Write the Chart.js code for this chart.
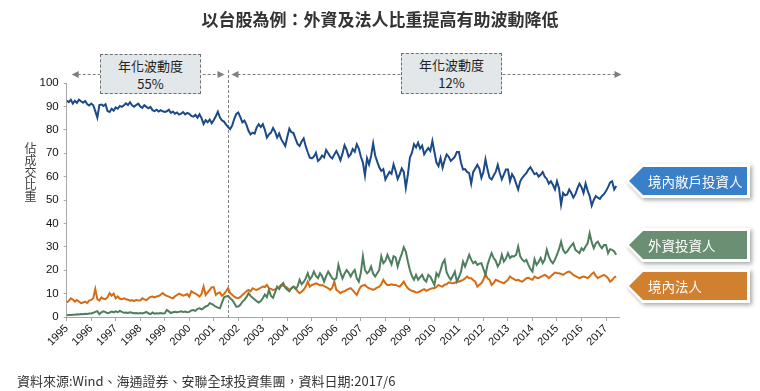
<!DOCTYPE html>
<html>
<head>
<meta charset="utf-8">
<script src="https://cdn.jsdelivr.net/npm/chart.js@4.4.1/dist/chart.umd.min.js"></script>
<style>
  body { margin: 0; background: #fff; }
  #wrap { position: relative; width: 760px; height: 391px; overflow: hidden; font-family: "Noto Sans CJK TC", "Noto Sans", sans-serif; }
  #chart { position: absolute; left: 0; top: 0; }
  .title { position: absolute; left: 0; width: 760px; top: 6px; text-align: center; font-size: 17px; font-weight: bold; color: #333; }
  .ytitle { position: absolute; left: 24px; top: 142px; writing-mode: vertical-rl; text-orientation: upright; font-size: 12px; line-height: 12px; color: #404040; }
  .note { position: absolute; background: #e2e7ea; border: 1px dashed #6f6f6f; box-sizing: border-box; text-align: center; font-size: 13px; line-height: 18px; color: #222; padding-top: 2px; }
  .tag { position: absolute; left: 626px; width: 124px; height: 34px; filter: drop-shadow(2px 2px 2px rgba(0,0,0,0.35)); }
  .tag .outer { position: absolute; inset: 0; background: #fff; clip-path: polygon(0 50%, 16px 0, 100% 0, 100% 100%, 16px 100%); }
  .tag .inner { position: absolute; left: 3px; top: 3px; right: 3px; bottom: 3px; clip-path: polygon(0 50%, 14px 0, 100% 0, 100% 100%, 14px 100%); color: #fff; font-size: 13.5px; line-height: 28px; padding-left: 19px; box-sizing: border-box; white-space: nowrap; }
  .footer { position: absolute; left: 17px; top: 371px; font-size: 13px; color: #333; white-space: nowrap; }
</style>
</head>
<body>
<div id="wrap">
  <canvas id="chart" width="760" height="391"></canvas>
  <div class="title">以台股為例：外資及法人比重提高有助波動降低</div>
  <div class="ytitle">佔成交比重</div>
  <div class="note" style="left:100px; top:54px; width:101px; height:40px;">年化波動度<br>55%</div>
  <div class="note" style="left:401px; top:53px; width:101px; height:41px;">年化波動度<br>12%</div>
  <div class="tag" style="top:164px;"><div class="outer"></div><div class="inner" style="background:#3a80c8;">境內散戶投資人</div></div>
  <div class="tag" style="top:228px;"><div class="outer"></div><div class="inner" style="background:#6a8f72;">外資投資人</div></div>
  <div class="tag" style="top:269px;"><div class="outer"></div><div class="inner" style="background:#d0802e;">境內法人</div></div>
  <div class="footer">資料來源:Wind、海通證券、安聯全球投資集團，資料日期:2017/6</div>
</div>
<script>
// monthly data, Jan 1995 - Jun 2017 (% of turnover)
const startYear = 1995;
const endYear = 2017.55;
const splitYear = 2001.58;

const xTicks = [1995, 1996, 1997, 1998, 1999, 2000, 2001, 2002, 2003, 2004, 2005,
  2006, 2007, 2008, 2009, 2010, 2011, 2012, 2013, 2014, 2015, 2016, 2017];
const yTicks = [0, 10, 20, 30, 40, 50, 60, 70, 80, 90, 100];

const retail = [
  92.5, 91.8, 92.8, 91.2, 92.4, 91.5, 92.9, 92.2, 91.6, 92.3, 91.0, 90.4, // 1995
  91.2, 90.5, 88.0, 85.2, 90.6, 90.8, 90.2, 90.9, 88.0, 87.6, 89.0, 88.2, // 1996
  89.6, 89.0, 90.2, 89.8, 90.5, 91.3, 90.6, 91.8, 90.5, 89.9, 90.6, 91.2, // 1997
  90.0, 89.4, 90.5, 89.8, 89.2, 89.8, 88.4, 88.0, 88.6, 87.8, 88.4, 87.9, // 1998
  87.6, 87.9, 88.6, 87.2, 87.8, 86.9, 87.4, 86.5, 86.9, 87.6, 86.6, 87.2, // 1999
  86.8, 85.9, 85.6, 86.4, 85.2, 86.6, 85.0, 82.5, 84.1, 83.2, 84.4, 82.8, // 2000
  84.2, 85.8, 87.7, 85.2, 84.0, 83.5, 82.2, 81.2, 80.3, 81.8, 84.6, 86.8, // 2001
  87.4, 85.4, 83.2, 83.9, 82.1, 79.6, 78.0, 78.8, 78.4, 81.0, 82.4, 81.2, // 2002
  82.4, 80.0, 76.7, 78.0, 78.8, 80.8, 79.2, 76.7, 78.4, 76.0, 74.6, 73.1, // 2003
  77.0, 80.5, 79.0, 78.6, 76.2, 74.0, 73.1, 75.0, 76.3, 73.0, 70.4, 68.1, // 2004
  67.8, 68.5, 70.2, 66.7, 67.5, 69.0, 68.2, 71.4, 70.0, 68.5, 67.8, 69.5, // 2005
  70.9, 69.2, 67.0, 69.8, 73.4, 71.5, 68.5, 69.5, 71.8, 70.6, 73.8, 72.0, // 2006
  68.5, 66.0, 60.5, 67.8, 65.2, 68.8, 74.2, 69.0, 66.4, 64.0, 62.4, 63.2, // 2007
  58.8, 60.5, 62.0, 61.2, 65.2, 62.4, 59.0, 61.0, 63.5, 62.0, 55.2, 60.8, // 2008
  68.1, 70.2, 73.8, 72.5, 74.5, 72.0, 73.2, 69.5, 71.0, 72.2, 71.0, 75.2, // 2009
  70.5, 66.0, 64.5, 68.0, 63.8, 67.0, 69.5, 68.5, 66.7, 67.5, 68.5, 70.5, // 2010
  70.5, 66.0, 63.0, 63.2, 62.0, 61.5, 57.0, 62.0, 63.5, 65.0, 63.4, 59.5, // 2011
  62.0, 67.4, 63.0, 59.5, 58.8, 60.5, 62.0, 65.0, 61.5, 58.8, 61.0, 63.0, // 2012
  63.0, 58.0, 61.0, 59.5, 57.0, 54.5, 58.0, 59.5, 60.5, 61.5, 63.0, 64.0, // 2013
  62.5, 61.0, 61.5, 60.0, 60.8, 62.0, 60.0, 59.0, 57.0, 58.0, 56.5, 54.5, // 2014
  58.0, 55.0, 48.0, 53.0, 52.0, 52.4, 54.5, 53.0, 51.0, 52.5, 55.0, 57.0, // 2015
  55.5, 53.0, 57.0, 54.0, 51.7, 47.6, 50.0, 51.7, 51.0, 50.5, 51.7, 52.5, // 2016
  53.8, 55.5, 57.5, 58.0, 54.5, 56.0                                      // 2017
];

const foreign = [
  0.8, 0.9, 0.9, 1.0, 1.0, 1.2, 1.1, 1.3, 1.2, 1.4, 1.3, 1.5,   // 1995
  1.5, 1.8, 2.2, 2.5, 1.2, 2.0, 2.4, 2.1, 1.6, 1.9, 2.3, 2.0,   // 1996
  2.4, 2.1, 2.6, 2.2, 1.8, 1.9, 1.7, 2.0, 1.8, 1.6, 1.7, 1.5,   // 1997
  1.7, 1.5, 1.8, 2.2, 1.6, 1.2, 1.9, 1.4, 1.6, 1.5, 1.7, 1.5,   // 1998
  1.6, 3.0, 2.4, 1.7, 2.0, 2.2, 2.0, 2.2, 2.4, 2.1, 2.3, 2.0,   // 1999
  2.2, 2.8, 3.0, 2.6, 3.5, 3.7, 3.3, 3.8, 4.5, 4.8, 5.9, 5.6,   // 2000
  5.0, 4.4, 4.0, 3.7, 6.0, 8.4, 8.8, 9.0, 8.0, 7.3, 6.0, 4.4,   // 2001
  4.5, 5.2, 6.5, 7.3, 8.5, 10.2, 9.0, 8.2, 7.5, 6.8, 6.2, 6.8,  // 2002
  8.0, 9.6, 8.5, 11.6, 9.0, 8.2, 10.5, 13.0, 12.0, 13.5, 14.5, 12.5, // 2003
  11.6, 11.0, 12.3, 13.0, 12.0, 13.0, 15.9, 14.0, 15.0, 16.5, 18.7, 16.0, // 2004
  17.3, 19.4, 17.5, 16.6, 18.7, 17.5, 15.1, 17.5, 19.4, 18.0, 16.5, 15.9, // 2005
  16.6, 22.3, 19.0, 16.5, 18.5, 20.1, 19.0, 17.3, 19.0, 20.1, 16.5, 15.1, // 2006
  19.0, 25.9, 20.1, 18.7, 19.5, 21.6, 18.5, 17.3, 18.7, 20.1, 25.9, 23.0, // 2007
  24.0, 26.6, 24.5, 22.5, 26.0, 25.5, 21.6, 24.5, 27.0, 29.8, 28.0, 23.7, // 2008
  20.1, 17.5, 15.9, 18.0, 15.9, 17.0, 18.0, 16.0, 15.1, 18.0, 17.3, 15.5, // 2009
  13.7, 18.7, 17.3, 20.0, 23.0, 24.4, 19.0, 17.3, 15.9, 17.5, 19.4, 15.1, // 2010
  17.0, 19.4, 23.7, 21.6, 24.0, 26.6, 24.5, 23.0, 23.7, 22.3, 22.8, 23.0, // 2011
  20.5, 18.0, 22.3, 25.0, 27.3, 25.2, 24.0, 21.6, 23.0, 26.6, 23.7, 25.0, // 2012
  27.3, 25.2, 26.0, 25.9, 26.6, 30.1, 25.9, 24.5, 23.7, 24.4, 22.3, 20.5, // 2013
  19.4, 24.7, 22.3, 23.5, 25.2, 23.0, 24.5, 28.7, 25.9, 24.0, 23.0, 24.5, // 2014
  26.6, 29.0, 32.2, 28.7, 27.3, 28.0, 29.4, 30.5, 31.5, 28.7, 28.0, 27.3, // 2015
  29.4, 28.5, 30.1, 31.5, 35.8, 32.0, 29.4, 31.5, 32.2, 30.5, 29.4, 30.8, // 2016
  30.8, 27.3, 29.0, 28.7, 28.0, 26.6                                      // 2017
];

const institutional = [
  6.3, 6.8, 8.0, 7.5, 6.6, 7.3, 6.6, 5.9, 6.2, 6.6, 6.0, 7.0,   // 1995
  7.3, 8.0, 11.9, 7.6, 7.0, 8.4, 7.8, 7.6, 8.5, 10.2, 9.1, 10.0, // 1996
  8.0, 8.8, 7.8, 7.6, 8.0, 7.6, 7.4, 7.0, 7.2, 6.8, 7.3, 7.0,   // 1997
  7.0, 8.0, 7.5, 7.2, 8.0, 8.6, 8.7, 8.4, 8.8, 9.0, 9.5, 10.2,  // 1998
  9.4, 9.0, 8.7, 8.3, 8.0, 8.8, 9.4, 10.0, 9.6, 9.1, 9.4, 9.8,  // 1999
  8.7, 11.0, 10.4, 10.0, 9.5, 8.7, 9.8, 13.0, 9.4, 10.5, 11.6, 12.7, // 2000
  12.7, 9.4, 10.2, 10.5, 9.1, 9.8, 11.0, 12.3, 10.2, 9.5, 8.7, 8.2,  // 2001
  8.0, 8.6, 9.4, 10.2, 11.0, 11.6, 11.0, 12.3, 11.8, 11.6, 12.0, 12.5, // 2002
  13.0, 12.8, 13.7, 12.3, 12.0, 11.6, 11.8, 12.3, 12.8, 13.7, 13.3, 13.0, // 2003
  12.5, 11.6, 12.2, 13.0, 12.6, 11.0, 10.2, 10.8, 11.6, 13.0, 15.1, 13.0, // 2004
  13.7, 14.0, 14.4, 14.0, 13.5, 13.7, 13.2, 12.8, 12.3, 11.6, 12.5, 15.1, // 2005
  11.6, 11.0, 10.2, 10.8, 11.0, 11.6, 12.0, 12.3, 11.5, 10.4, 9.4, 11.5,  // 2006
  13.0, 13.5, 13.7, 12.8, 12.3, 12.0, 11.6, 12.0, 12.6, 13.0, 14.0, 15.9, // 2007
  14.5, 13.7, 13.7, 14.0, 13.7, 13.7, 13.3, 13.0, 14.0, 15.1, 13.5, 12.3, // 2008
  11.6, 11.2, 10.9, 10.5, 10.6, 11.0, 11.5, 11.9, 11.2, 11.6, 12.0, 12.3, // 2009
  12.3, 12.8, 13.7, 13.2, 13.0, 13.8, 14.0, 14.8, 14.5, 14.4, 14.6, 15.1, // 2010
  15.1, 15.5, 15.9, 16.5, 17.3, 16.6, 16.6, 15.8, 15.1, 13.0, 13.8, 14.4, // 2011
  16.0, 18.4, 16.5, 15.9, 13.7, 14.5, 15.9, 15.5, 15.1, 14.8, 14.4, 15.2, // 2012
  15.9, 17.3, 16.6, 16.2, 15.6, 15.9, 15.4, 15.1, 15.8, 16.6, 16.8, 16.3, // 2013
  15.9, 17.3, 16.8, 16.6, 17.2, 17.6, 18.0, 17.5, 16.6, 17.4, 18.2, 19.0, // 2014
  18.8, 18.7, 18.4, 18.0, 18.6, 19.2, 19.4, 18.8, 18.0, 17.5, 17.0, 16.6, // 2015
  17.0, 17.3, 17.0, 16.6, 17.4, 18.4, 19.0, 17.6, 16.6, 17.2, 17.6, 18.0, // 2016
  17.4, 16.6, 15.1, 15.8, 16.9, 17.3                                      // 2017
];

function toPoints(arr) {
  return arr.map((v, i) => ({ x: startYear + i / 12, y: v }));
}

// arrows + dashed divider
const decor = {
  id: 'decor',
  beforeDatasetsDraw(chart) {
    const { ctx, chartArea, scales: { x } } = chart;
    const sx = Math.round(x.getPixelForValue(splitYear)) + 0.5;
    const y = 74.5;
    ctx.save();
    ctx.strokeStyle = '#7f7f7f';
    ctx.fillStyle = '#7f7f7f';
    ctx.lineWidth = 1;
    ctx.setLineDash([3, 2]);
    ctx.beginPath();
    ctx.moveTo(sx, 70);
    ctx.lineTo(sx, chartArea.bottom);
    ctx.stroke();

    const tri = (tip, dir) => {
      ctx.beginPath();
      ctx.moveTo(tip, y);
      ctx.lineTo(tip - dir * 7, y - 3.5);
      ctx.lineTo(tip - dir * 7, y + 3.5);
      ctx.closePath();
      ctx.fill();
    };
    const segs = [
      [x.getPixelForValue(startYear) + 5, sx - 4],
      [sx + 3, chartArea.right + 2]
    ];
    segs.forEach(([a, b]) => {
      ctx.setLineDash([3, 2]);
      ctx.beginPath();
      ctx.moveTo(a + 6, y);
      ctx.lineTo(b - 6, y);
      ctx.stroke();
      ctx.setLineDash([]);
      tri(a, -1);
      tri(b, 1);
    });
    ctx.restore();
  }
};

const lineStyle = { borderWidth: 2, pointRadius: 0, tension: 0, fill: false };

new Chart(document.getElementById('chart'), {
  type: 'line',
  data: {
    datasets: [
      Object.assign({ label: '境內散戶投資人', data: toPoints(retail), borderColor: '#1b4a87' }, lineStyle),
      Object.assign({ label: '外資投資人', data: toPoints(foreign), borderColor: '#4d7e5d' }, lineStyle),
      Object.assign({ label: '境內法人', data: toPoints(institutional), borderColor: '#d56c14' }, lineStyle)
    ]
  },
  options: {
    responsive: false,
    devicePixelRatio: 1,
    animation: false,
    layout: { padding: { left: 26.7, right: 140.5, top: 83, bottom: 34 } },
    plugins: { legend: { display: false }, tooltip: { enabled: false } },
    scales: {
      x: {
        type: 'linear',
        min: startYear,
        max: endYear,
        afterBuildTicks(scale) {
          scale.ticks = xTicks.map(v => ({ value: v }));
        },
        afterFit(scale) { scale.height = 40; },
        grid: { drawOnChartArea: false, drawTicks: true, tickLength: 4, color: '#a6a6a6' },
        border: { display: true, color: '#a6a6a6' },
        ticks: {
          autoSkip: false,
          minRotation: 45,
          maxRotation: 45,
          padding: 1,
          color: '#111',
          font: { family: 'Liberation Sans', size: 11 },
          callback: v => String(v)
        }
      },
      y: {
        min: 0,
        max: 100,
        afterBuildTicks(scale) {
          scale.ticks = yTicks.map(v => ({ value: v }));
        },
        afterFit(scale) { scale.width = 40; },
        grid: { drawOnChartArea: false, drawTicks: true, tickLength: 3, color: '#a6a6a6' },
        border: { display: true, color: '#a6a6a6' },
        ticks: {
          padding: 5,
          color: '#111',
          font: { family: 'Liberation Sans', size: 11.5 }
        }
      }
    }
  },
  plugins: [decor]
});
</script>
</body>
</html>
